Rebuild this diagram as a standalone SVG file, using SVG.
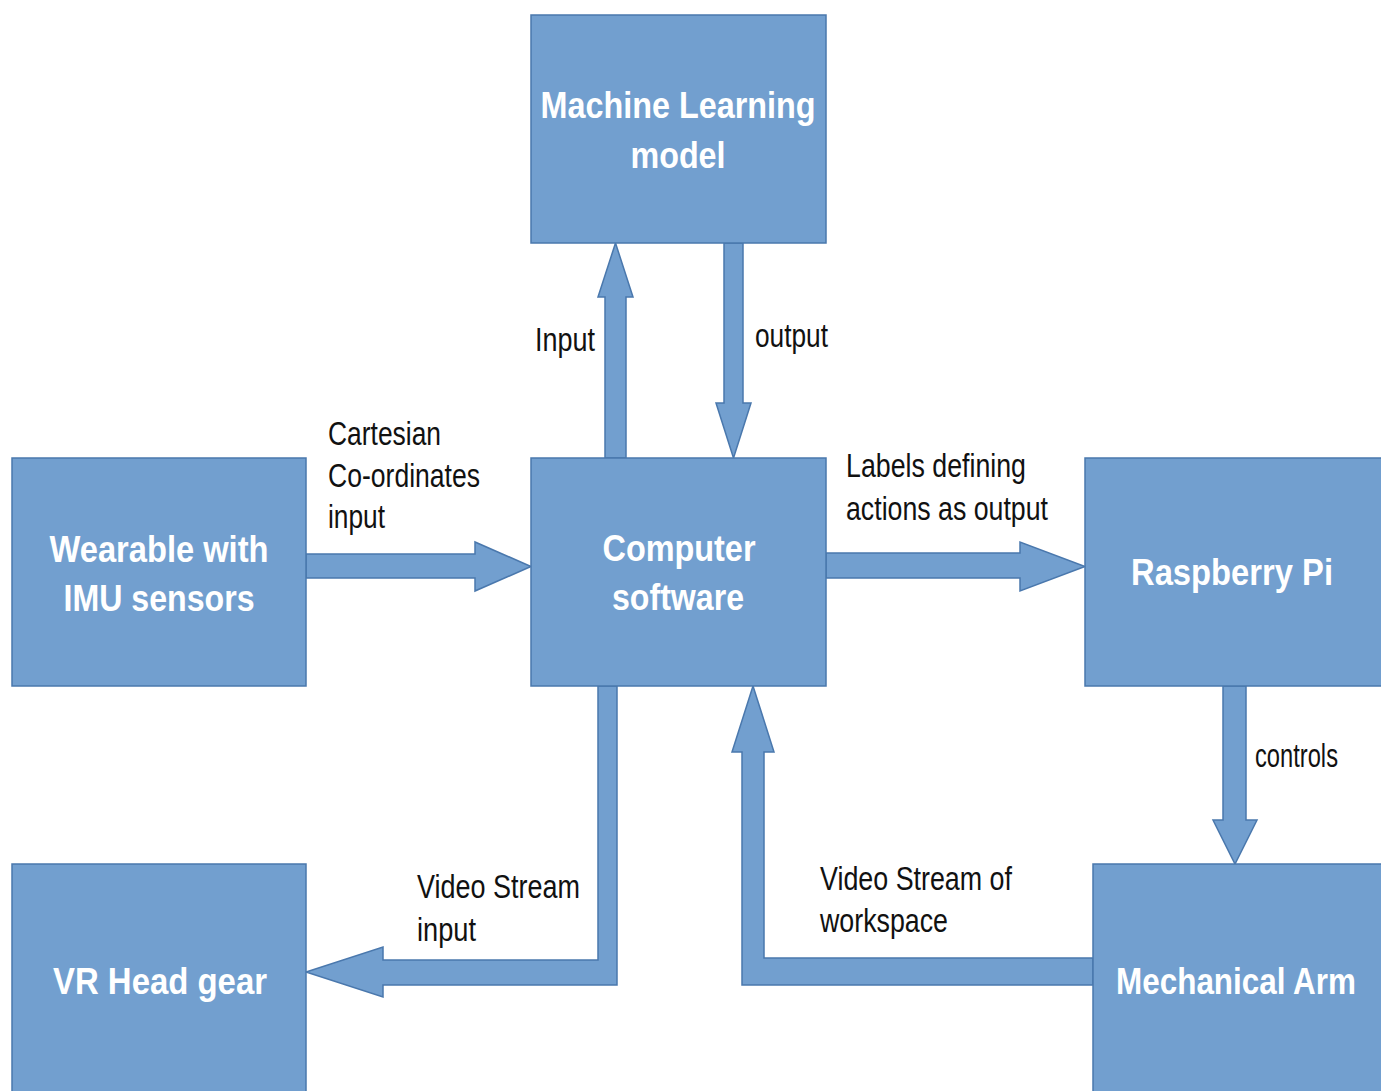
<svg xmlns="http://www.w3.org/2000/svg" width="1381" height="1091" viewBox="0 0 1381 1091">
  <style>
    .box { fill: #729fcf; stroke: #4a78ad; stroke-width: 1.5; }
    .arrow { fill: #729fcf; stroke: #4a78ad; stroke-width: 1.5; stroke-linejoin: miter; }
    .title { font-family: "Liberation Sans", Arial, sans-serif; font-weight: bold; font-size: 36px; fill: #ffffff; text-anchor: middle; }
    .label { font-family: "Liberation Sans", Arial, sans-serif; font-size: 33px; fill: #111111; }
  </style>
  <rect width="1381" height="1091" fill="#ffffff"/>

  <!-- block arrows between the units -->
  <g id="connectors">
    <!-- software -> ML model (input) -->
    <polygon class="arrow" points="605,458 605,297 598,297 615.5,243 633,297 626,297 626,458"/>
    <!-- ML model -> software (output) -->
    <polygon class="arrow" points="724,243 743,243 743,403 751,403 733.5,458 716,403 724,403"/>
    <!-- wearable -> software -->
    <polygon class="arrow" points="306,554 475,554 475,542 531,566.5 475,591 475,578 306,578"/>
    <!-- software -> Raspberry Pi -->
    <polygon class="arrow" points="826,553 1020,553 1020,542 1085,566.5 1020,591 1020,578 826,578"/>
    <!-- Raspberry Pi -> mechanical arm -->
    <polygon class="arrow" points="1223,686 1246,686 1246,820 1257,820 1235,864 1213,820 1223,820"/>
    <!-- software -> VR head gear (video stream) -->
    <polygon class="arrow" points="598,686 617,686 617,985 383,985 383,997 306,972 383,947 383,960 598,960"/>
    <!-- mechanical arm -> software (workspace video) -->
    <polygon class="arrow" points="1093,958 1093,985 742,985 742,752 732,752 753,686 774,752 764,752 764,958"/>
  </g>

  <g id="ml-model">
    <rect class="box" x="531" y="15" width="295" height="228"/>
    <text class="title" x="678" y="118" textLength="275" lengthAdjust="spacingAndGlyphs">Machine Learning</text>
    <text class="title" x="678" y="168" textLength="95" lengthAdjust="spacingAndGlyphs">model</text>
  </g>

  <g id="wearable">
    <rect class="box" x="12" y="458" width="294" height="228"/>
    <text class="title" x="159" y="562" textLength="219" lengthAdjust="spacingAndGlyphs">Wearable with</text>
    <text class="title" x="159" y="611" textLength="191" lengthAdjust="spacingAndGlyphs">IMU sensors</text>
  </g>

  <g id="computer-software">
    <rect class="box" x="531" y="458" width="295" height="228"/>
    <text class="title" x="679" y="561" textLength="153" lengthAdjust="spacingAndGlyphs">Computer</text>
    <text class="title" x="678" y="610" textLength="132" lengthAdjust="spacingAndGlyphs">software</text>
  </g>

  <g id="raspberry-pi">
    <rect class="box" x="1085" y="458" width="300" height="228"/>
    <text class="title" x="1232" y="585" textLength="202" lengthAdjust="spacingAndGlyphs">Raspberry Pi</text>
  </g>

  <g id="vr-head-gear">
    <rect class="box" x="12" y="864" width="294" height="232"/>
    <text class="title" x="160" y="994" textLength="214" lengthAdjust="spacingAndGlyphs">VR Head gear</text>
  </g>

  <g id="mechanical-arm">
    <rect class="box" x="1093" y="864" width="292" height="232"/>
    <text class="title" x="1236" y="994" textLength="240" lengthAdjust="spacingAndGlyphs">Mechanical Arm</text>
  </g>

  <!-- connector captions -->
  <g id="captions">
    <text class="label" x="535" y="351" textLength="60" lengthAdjust="spacingAndGlyphs">Input</text>
    <text class="label" x="755" y="347" textLength="73" lengthAdjust="spacingAndGlyphs">output</text>
    <text class="label" x="328" y="445" textLength="113" lengthAdjust="spacingAndGlyphs">Cartesian</text>
    <text class="label" x="328" y="487" textLength="152" lengthAdjust="spacingAndGlyphs">Co-ordinates</text>
    <text class="label" x="328" y="528" textLength="57" lengthAdjust="spacingAndGlyphs">input</text>
    <text class="label" x="846" y="477" textLength="180" lengthAdjust="spacingAndGlyphs">Labels defining</text>
    <text class="label" x="846" y="520" textLength="202" lengthAdjust="spacingAndGlyphs">actions as output</text>
    <text class="label" x="1255" y="767" textLength="83" lengthAdjust="spacingAndGlyphs">controls</text>
    <text class="label" x="417" y="898" textLength="163" lengthAdjust="spacingAndGlyphs">Video Stream</text>
    <text class="label" x="417" y="941" textLength="59" lengthAdjust="spacingAndGlyphs">input</text>
    <text class="label" x="820" y="890" textLength="192" lengthAdjust="spacingAndGlyphs">Video Stream of</text>
    <text class="label" x="820" y="932" textLength="128" lengthAdjust="spacingAndGlyphs">workspace</text>
  </g>
</svg>
